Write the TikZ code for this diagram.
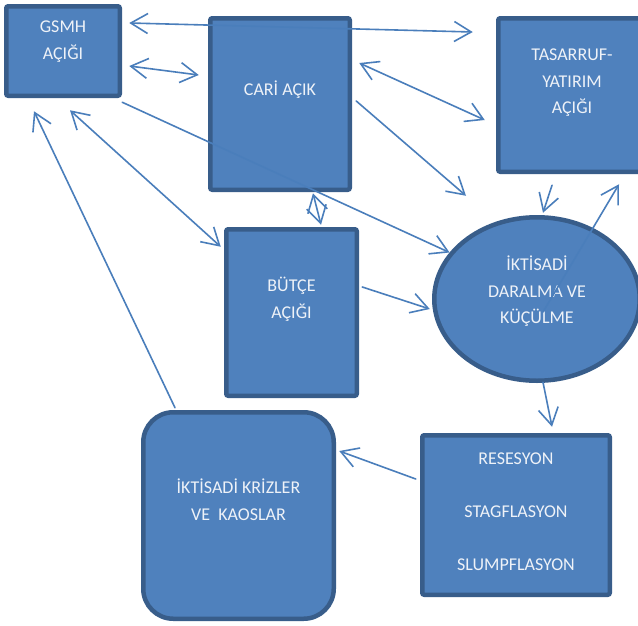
\documentclass[tikz,border=0pt]{standalone}
\usepackage{fontspec}
\setmainfont{Carlito}
\usetikzlibrary{arrows.meta,shapes.geometric}
\definecolor{boxfill}{HTML}{4F81BD}
\definecolor{boxline}{HTML}{385D8A}
\definecolor{linkline}{HTML}{4A7EBB}
\definecolor{boxtext}{HTML}{EEF2F8}
% text block of a panel: width, height, first-baseline depth, lines
\newcommand\panelbody[4]{\parbox[c][#2][t]{#1}{\centering\rule{0pt}{#3}#4}}
\tikzset{
  panel/.style={draw=boxline, fill=boxfill, line width=4.5pt, inner sep=0pt,
    rounded corners=2pt, text=boxtext, font=\fontsize{18}{26.5}\selectfont},
  link/.style={draw=linkline, line width=1.6pt, line cap=round},
}
\begin{document}
\begin{tikzpicture}[x=1pt, y=-1pt, >={Straight Barb[length=17pt, width=20pt]}]
\useasboundingbox (0,0) rectangle (638,625);
\fill[white] (0,0) rectangle (638,625);

% panels
\node[panel] (gsmh) at (63,51)
  {\panelbody{113.5pt}{89.5pt}{26.5pt}{GSMH\\AÇIĞI}};
\node[panel] (cari) at (280,104)
  {\panelbody{139.5pt}{171.5pt}{77.5pt}{CARİ AÇIK}};
\node[panel] (tas) at (572,95)
  {\panelbody{147.5pt}{153.5pt}{42.5pt}{TASARRUF-\\YATIRIM\\AÇIĞI}};
\node[panel] (butce) at (291.5,312.5)
  {\panelbody{130.5pt}{166.5pt}{62.5pt}{BÜTÇE\\AÇIĞI}};
\node[panel, ellipse, minimum width=205.5pt, minimum height=163.5pt] (ell) at (537,299)
  {\panelbody{140pt}{110pt}{26.8pt}{İKTİSADİ\\DARALMA VE\\KÜÇÜLME}};
\node[panel, rounded corners=30pt] (kriz) at (238.5,515.5)
  {\panelbody{190.5pt}{206.5pt}{81.5pt}{İKTİSADİ KRİZLER\\VE\ \ KAOSLAR}};
\node[panel] (res) at (516,515)
  {\panelbody{187.5pt}{159.5pt}{29.5pt}{RESESYON\\[26.5pt]STAGFLASYON\\[26.5pt]SLUMPFLASYON}};

% connectors
\draw[link,<->] ([shift={(7.25,-28)}]gsmh.east) -- ([shift={(-23.25,-63)}]tas.west);
\draw[link,<->] ([shift={(7.25,15)}]gsmh.east) -- ([shift={(-9.25,-29)}]cari.west);
\draw[link,->] ([shift={(0.25,4.25)}]gsmh.south east) -- (ell.152);
\draw[link,<->] ([shift={(7,12.25)}]gsmh.south) -- ([shift={(-3.25,19.75)}]butce.north west);
\draw[link,->] ([shift={(-63.5,-2.25)}]kriz.north) -- ([shift={(-29,13.25)}]gsmh.south);
\draw[link,<->] ([shift={(7.25,-41)}]cari.east) -- ([shift={(-11.25,25)}]tas.west);
\draw[link,->] ([shift={(4.25,-3)}]cari.east) -- ([shift={(-71,-19.25)}]ell.north);
\draw[link,<->] ([shift={(33,1.25)}]cari.south) -- ([shift={(29.5,-2.25)}]butce.north);
\draw[link,->] ([shift={(3.25,-25.5)}]butce.east) -- ([shift={(-2.25,10)}]ell.west);
\draw[link,->] ([shift={(-20,11.25)}]tas.south) -- ([shift={(6,-2.25)}]ell.north);
\draw[link,->] ([shift={(6,13)}]ell.center) -- ([shift={(47,10.25)}]tas.south);
\draw[link,->] ([shift={(6,-0.75)}]ell.south) -- ([shift={(36,-6.25)}]res.north);
\draw[link,->] ([shift={(-4.25,-36)}]res.west) -- ([shift={(3.25,-64.5)}]kriz.east);
\end{tikzpicture}
\end{document}
